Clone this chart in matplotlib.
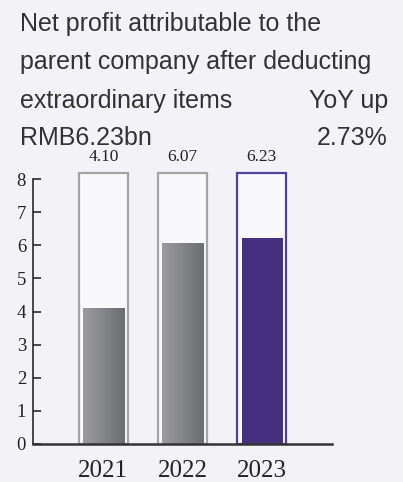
import matplotlib.pyplot as plt
import numpy as np
from matplotlib.colors import LinearSegmentedColormap

years = ["2021", "2022", "2023"]
profit = [4.10, 6.07, 6.23]
frame_top = [8.2, 8.2, 8.2]

bg = "#f3f2f7"
grey_edge = "#a5a5a7"
purple = "#472f80"
purple_edge = "#5041a0"

fig = plt.figure(figsize=(4.03, 4.82), dpi=100)
fig.patch.set_facecolor(bg)

# title block
title_kw = dict(family="Liberation Sans", fontsize=18, color="#333333")
fig.text(20 / 403, 1 - 24 / 482, "Net profit attributable to the", va="center", **title_kw)
fig.text(20 / 403, 1 - 62 / 482, "parent company after deducting", va="center", **title_kw)
fig.text(20 / 403, 1 - 101 / 482, "extraordinary items", va="center", **title_kw)
fig.text(388 / 403, 1 - 101 / 482, "YoY up", va="center", ha="right", **title_kw)
fig.text(20 / 403, 1 - 138 / 482, "RMB6.23bn", va="center", **title_kw)
fig.text(388 / 403, 1 - 138 / 482, "2.73%", va="center", ha="right", **title_kw)

# axes: zero line at y=443.7px, 33px per unit
bottom = 443.7
top = bottom - 8.3 * 33.05
ax = fig.add_axes([33 / 403, 1 - bottom / 482, (332 - 33) / 403, (bottom - top) / 482])
ax.set_facecolor("none")

x = np.arange(len(years))

# outline frames
edges = [grey_edge, grey_edge, purple_edge]
ax.bar(x, frame_top, width=0.614, facecolor="#f9f9fb", edgecolor=edges, linewidth=1.6, zorder=1)

# filled bars, grey ones with a horizontal gradient
grey_cmap = LinearSegmentedColormap.from_list("g", ["#9c9ca0", "#6c6d71"])
grad = np.linspace(0, 1, 64).reshape(1, -1)
w = 0.52
for i, v in enumerate(profit):
    if i < 2:
        ax.imshow(grad, cmap=grey_cmap, aspect="auto", zorder=2,
                  extent=(x[i] - w / 2, x[i] + w / 2, 0, v), interpolation="bilinear")
    else:
        ax.bar(x[i] + 0.015, v, width=w, color=purple, zorder=2)
    ax.text(x[i], 8.67, f"{v:.2f}", ha="center", va="center",
            family="Liberation Serif", fontsize=12.5, color="#222222", clip_on=False)

ax.set_xlim(-0.888, 2.888)
ax.set_ylim(0, 8.3)

for s in ["top", "right"]:
    ax.spines[s].set_visible(False)
ax.spines["left"].set_bounds(0, 8)
ax.spines["left"].set_color("#2a2a2a")
ax.spines["left"].set_linewidth(1.2)
ax.spines["bottom"].set_color("#333333")
ax.spines["bottom"].set_linewidth(1.8)
ax.spines["bottom"].set_zorder(3)

ax.set_yticks(range(0, 9))
ax.tick_params(axis="y", direction="in", length=6, width=1.2, color="#2a2a2a", pad=5,
               labelsize=13.5, labelcolor="#222222")
for lab in ax.get_yticklabels():
    lab.set_family("Liberation Serif")

ax.set_xticks(x)
ax.set_xticklabels(years, family="Liberation Serif", fontsize=18, color="#222222")
ax.tick_params(axis="x", length=0, pad=12)

fig.savefig("out.png", dpi=100, facecolor=bg)
